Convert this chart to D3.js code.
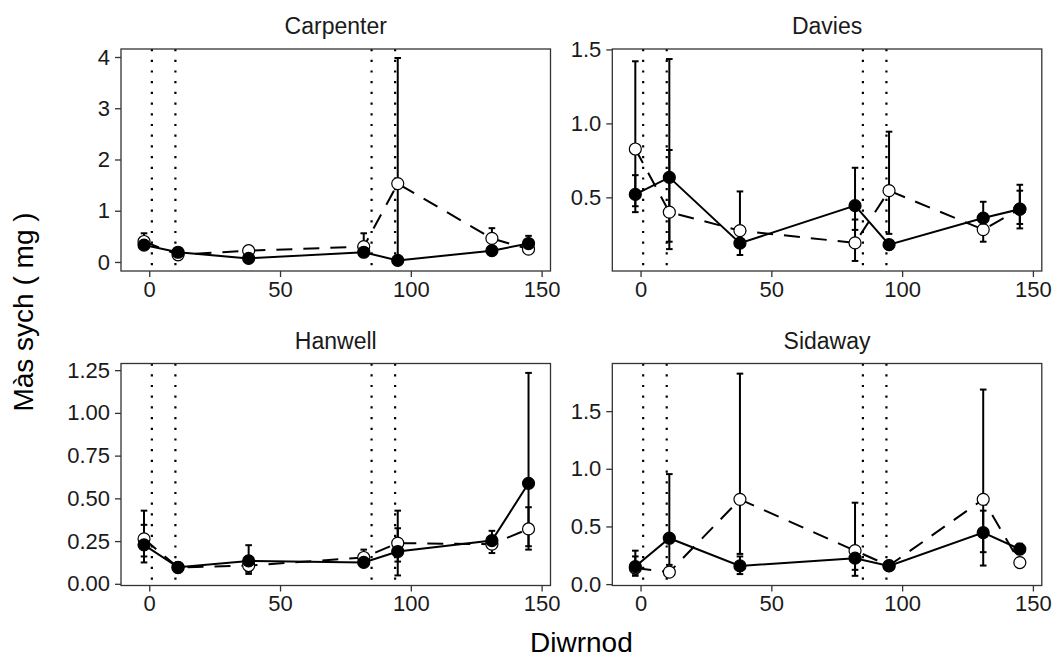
<!DOCTYPE html>
<html>
<head>
<meta charset="utf-8">
<script src="https://cdn.jsdelivr.net/npm/d3@7"></script>
<style>
  body { margin: 0; background: #fff; }
  text { font-family: "Liberation Sans", Arial, sans-serif; }
</style>
</head>
<body>
<div class="chart"></div>
<script>
// Data
const sites = ["Carpenter", "Davies", "Hanwell", "Sidaway"];
const days = [-2, 11, 38, 82, 95, 131, 145];
const vlineDays = [1, 10, 85, 94];

// filled circles, solid line (one row per site)
const filledMean = [
    [0.33, 0.19, 0.07, 0.19, 0.03, 0.22, 0.36],
    [0.52, 0.635, 0.19, 0.444, 0.18, 0.36, 0.42],
    [0.228, 0.097, 0.134, 0.125, 0.189, 0.253, 0.588],
    [0.152, 0.398, 0.158, 0.225, 0.158, 0.446, 0.303]
];
const filledLo = [
    [0.25, 0.15, 0.04, 0.12, 0.01, 0.18, 0.25],
    [0.44, 0.15, 0.11, 0.28, 0.15, 0.28, 0.29],
    [0.125, 0.08, 0.07, 0.10, 0.049, 0.21, 0.20],
    [0.072, 0.167, 0.087, 0.072, 0.13, 0.161, 0.26]
];
const filledHi = [
    [0.45, 0.23, 0.10, 0.25, 0.06, 0.26, 0.51],
    [0.65, 1.435, 0.25, 0.70, 0.21, 0.47, 0.585],
    [0.345, 0.12, 0.226, 0.15, 0.325, 0.31, 1.234],
    [0.24, 0.954, 0.24, 0.30, 0.19, 0.637, 0.35]
];

// open circles, dashed line
const openMean = [
    [0.40, 0.14, 0.22, 0.30, 1.53, 0.46, 0.25],
    [0.827, 0.40, 0.275, 0.192, 0.545, 0.282, 0.42],
    [0.263, 0.095, 0.107, 0.154, 0.238, 0.232, 0.321],
    [0.14, 0.104, 0.735, 0.29, 0.16, 0.735, 0.187]
];
const openLo = [
    [0.30, 0.10, 0.18, 0.20, 0.02, 0.30, 0.20],
    [0.40, 0.20, 0.17, 0.07, 0.253, 0.20, 0.32],
    [0.16, 0.08, 0.058, 0.12, 0.13, 0.18, 0.22],
    [0.09, 0.07, 0.262, 0.124, 0.13, 0.277, 0.16]
];
const openHi = [
    [0.56, 0.18, 0.27, 0.56, 3.98, 0.66, 0.31],
    [1.42, 0.82, 0.54, 0.35, 0.944, 0.33, 0.545],
    [0.428, 0.12, 0.16, 0.20, 0.428, 0.28, 0.448],
    [0.29, 0.14, 1.825, 0.706, 0.19, 1.687, 0.22]
];

// axis settings per panel
const yDomains = [[-0.176, 4.156], [0.002, 1.503], [-0.0099, 1.289], [-0.012, 1.913]];
const yTicks = [[0, 1, 2, 3, 4], [0.5, 1.0, 1.5], [0, 0.25, 0.5, 0.75, 1.0, 1.25], [0, 0.5, 1.0, 1.5]];
const yFormats = ["d", ".1f", ".2f", ".1f"];
const xDomain = [-10.8, 153.4];
const xTicks = [0, 50, 100, 150];

// Layout
const W = 1053, H = 657;
const colLeft = [121, 612.3];
const rowTop = [49, 363.5];
const pw = 429.5, ph = 222;

const svg = d3.select(".chart").append("svg")
    .attr("width", W)
    .attr("height", H);

sites.forEach((site, i) => {
    const col = i % 2, row = Math.floor(i / 2);
    const g = svg.append("g")
        .attr("transform", `translate(${colLeft[col]}, ${rowTop[row]})`);

    const x = d3.scaleLinear().domain(xDomain).range([0, pw]);
    const y = d3.scaleLinear().domain(yDomains[i]).range([ph, 0]);

    // strip title
    g.append("text")
        .attr("x", pw / 2)
        .attr("y", -15)
        .attr("text-anchor", "middle")
        .attr("font-size", 23)
        .attr("fill", "#1a1a1a")
        .text(site);

    // axes
    const xAxis = g.append("g")
        .attr("transform", `translate(0, ${ph})`)
        .call(d3.axisBottom(x).tickValues(xTicks).tickSize(6).tickPadding(4));
    const yAxis = g.append("g")
        .call(d3.axisLeft(y).tickValues(yTicks[i]).tickFormat(d3.format(yFormats[i])).tickSize(6).tickPadding(5));
    [xAxis, yAxis].forEach(a => {
        a.select(".domain").remove();
        a.selectAll("line").attr("stroke", "#333").attr("stroke-width", 1.3);
        a.selectAll("text")
            .attr("font-size", 22)
            .attr("fill", "#1a1a1a")
            .style("font-family", "'Liberation Sans', Arial, sans-serif");
    });

    // dotted reference lines
    g.selectAll(".vline")
        .data(vlineDays)
        .enter()
        .append("line")
        .attr("class", "vline")
        .attr("x1", d => x(d))
        .attr("x2", d => x(d))
        .attr("y1", 0)
        .attr("y2", ph)
        .attr("stroke", "#000")
        .attr("stroke-width", 2.2)
        .attr("stroke-dasharray", "2.2,8.5");

    const series = [
        { mean: openMean[i], lo: openLo[i], hi: openHi[i], dash: "16,11", fill: "#fff" },
        { mean: filledMean[i], lo: filledLo[i], hi: filledHi[i], dash: null, fill: "#000" }
    ];

    // error bars
    series.forEach(s => {
        const pts = days.map((d, k) => ({ day: d, lo: s.lo[k], hi: s.hi[k] }));
        const eb = g.append("g").attr("stroke", "#000").attr("stroke-width", 2);
        eb.selectAll(".stem").data(pts).enter().append("line")
            .attr("x1", d => x(d.day)).attr("x2", d => x(d.day))
            .attr("y1", d => y(d.lo)).attr("y2", d => y(d.hi));
        eb.selectAll(".capHi").data(pts).enter().append("line")
            .attr("x1", d => x(d.day) - 3.3).attr("x2", d => x(d.day) + 3.3)
            .attr("y1", d => y(d.hi)).attr("y2", d => y(d.hi));
        eb.selectAll(".capLo").data(pts).enter().append("line")
            .attr("x1", d => x(d.day) - 3.3).attr("x2", d => x(d.day) + 3.3)
            .attr("y1", d => y(d.lo)).attr("y2", d => y(d.lo));
    });

    // lines
    const line = d3.line()
        .x((d, k) => x(days[k]))
        .y(d => y(d));
    series.forEach(s => {
        g.append("path")
            .attr("d", line(s.mean))
            .attr("fill", "none")
            .attr("stroke", "#000")
            .attr("stroke-width", 2)
            .attr("stroke-dasharray", s.dash);
    });

    // points
    series.forEach(s => {
        g.selectAll(null)
            .data(s.mean)
            .enter()
            .append("circle")
            .attr("cx", (d, k) => x(days[k]))
            .attr("cy", d => y(d))
            .attr("r", 6)
            .attr("fill", s.fill)
            .attr("stroke", "#000")
            .attr("stroke-width", 1.2);
    });

    // panel border
    g.append("rect")
        .attr("width", pw)
        .attr("height", ph)
        .attr("fill", "none")
        .attr("stroke", "#333")
        .attr("stroke-width", 1.3);
});

// axis titles
svg.append("text")
    .attr("transform", "translate(33, 312) rotate(-90)")
    .attr("text-anchor", "middle")
    .attr("font-size", 28)
    .text("Màs sych ( mg )");

svg.append("text")
    .attr("x", (colLeft[0] + colLeft[1] + pw) / 2)
    .attr("y", 652)
    .attr("text-anchor", "middle")
    .attr("font-size", 28)
    .text("Diwrnod");
</script>
</body>
</html>
